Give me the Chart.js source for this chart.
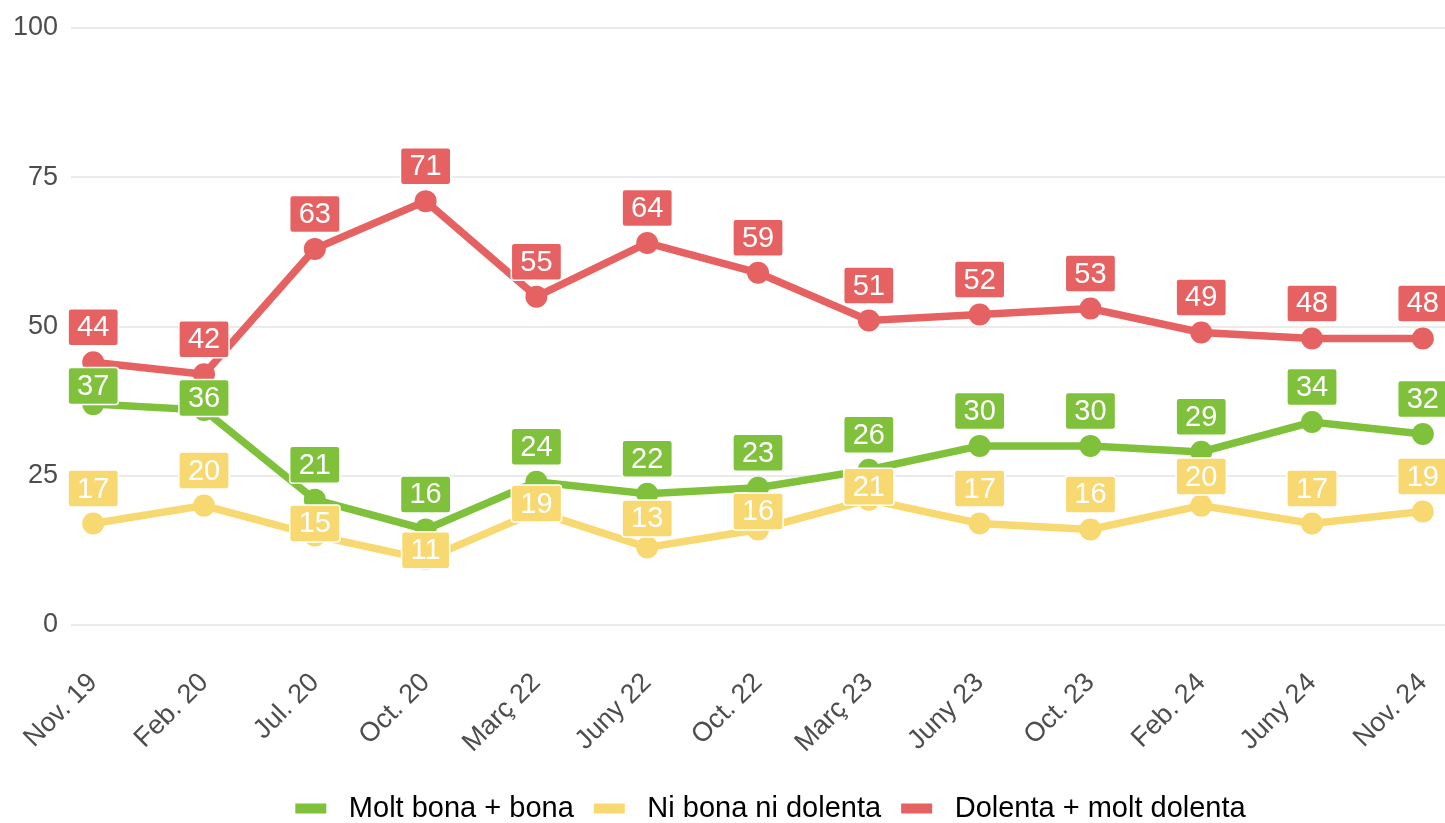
<!DOCTYPE html>
<html>
<head>
<meta charset="utf-8">
<script src="https://cdn.jsdelivr.net/npm/chart.js@4.4.1/dist/chart.umd.min.js"></script>
<style>
  html, body { margin: 0; padding: 0; background: #fff; overflow: hidden; }
  #wrap { width: 1445px; height: 823px; position: relative; }
</style>
</head>
<body>
<div id="wrap"><canvas id="grafic"></canvas></div>
<script>
// Dades de l'enquesta
const categories = ['Nov. 19', 'Feb. 20', 'Jul. 20', 'Oct. 20', 'Març 22', 'Juny 22', 'Oct. 22',
                    'Març 23', 'Juny 23', 'Oct. 23', 'Feb. 24', 'Juny 24', 'Nov. 24'];
const seriesNames = ['Molt bona + bona', 'Ni bona ni dolenta', 'Dolenta + molt dolenta'];
const bona    = [37, 36, 21, 16, 24, 22, 23, 26, 30, 30, 29, 34, 32];
const neutra  = [17, 20, 15, 11, 19, 13, 16, 21, 17, 16, 20, 17, 19];
const dolenta = [44, 42, 63, 71, 55, 64, 59, 51, 52, 53, 49, 48, 48];
const yTicks  = [0, 25, 50, 75, 100];

// Colors i desplaçament vertical de les etiquetes (px respecte el punt)
const colors = ['#7fc13b', '#f8d870', '#e66262'];
const labelShift = [
  [-18, -12, -35, -35, -35, -35, -35, -35, -35, -35, -35, -35, -35],
  [-35, -35, -12, -9, -8, -29, -18, -13, -35, -35, -29, -35, -35],
  [-35, -35, -35, -35, -35, -35, -35, -35, -35, -35, -35, -35, -35]
];

const FONT = "'Liberation Sans', Arial, sans-serif";

function toPoints(arr) {
  return arr.map((v, i) => ({ x: i, y: v }));
}

// Plugin per dibuixar les etiquetes amb caixa
const valueLabels = {
  id: 'valueLabels',
  afterDatasetsDraw(chart) {
    const ctx = chart.ctx;
    ctx.save();
    ctx.font = '29px ' + FONT;
    ctx.textAlign = 'center';
    ctx.textBaseline = 'middle';
    chart.data.datasets.forEach((ds, di) => {
      const meta = chart.getDatasetMeta(di);
      meta.data.forEach((pt, i) => {
        const txt = String(ds.data[i].y);
        const w = ctx.measureText(txt).width + 18;
        const h = 37;
        const cx = pt.x;
        const cy = pt.y + labelShift[di][i];
        ctx.beginPath();
        ctx.roundRect(cx - w / 2, cy - h / 2, w, h, 3);
        ctx.fillStyle = colors[di];
        ctx.fill();
        ctx.lineWidth = 1.5;
        ctx.strokeStyle = '#ffffff';
        ctx.stroke();
        ctx.fillStyle = '#ffffff';
        ctx.fillText(txt, cx, cy + 1);
      });
    });
    ctx.restore();
  }
};

// La llegenda no queda centrada a la pàgina sinó una mica a la dreta
const legendShift = {
  id: 'legendShift',
  afterLayout(chart) {
    chart.legend.left += 48;
    chart.legend.right += 48;
  }
};

const ctx = document.getElementById('grafic').getContext('2d');
const chart = new Chart(ctx, {
  type: 'line',
  data: {
    datasets: [bona, neutra, dolenta].map((serie, i) => ({
      label: seriesNames[i],
      data: toPoints(serie),
      borderColor: colors[i],
      backgroundColor: colors[i],
      borderWidth: 7.5,
      pointRadius: 11,
      pointBorderWidth: 0,
      pointBackgroundColor: colors[i],
      fill: false,
      tension: 0
    }))
  },
  options: {
    responsive: true,
    maintainAspectRatio: false,
    animation: false,
    layout: { autoPadding: false, padding: { top: 28, right: 0, left: 0, bottom: -10 } },
    scales: {
      x: {
        type: 'linear',
        min: -0.2,
        max: 12.2,
        grid: { display: false },
        border: { display: false },
        afterFit: scale => {
          scale.paddingRight = 0;
          scale.paddingLeft = 0;
          scale.height = 149;
        },
        ticks: {
          stepSize: 1,
          includeBounds: false,
          autoSkip: false,
          maxTicksLimit: 30,
          maxRotation: 45,
          minRotation: 45,
          padding: 34,
          color: '#4d4d4d',
          font: { family: FONT, size: 27 },
          callback: v => Number.isInteger(v) ? categories[v] : ''
        }
      },
      y: {
        min: 0,
        max: 100,
        afterBuildTicks: axis => { axis.ticks = yTicks.map(v => ({ value: v })); },
        afterFit: scale => {
          scale.paddingTop = 0;
          scale.paddingBottom = 0;
        },
        grid: { color: '#ebebeb', lineWidth: 2, drawTicks: false },
        border: { display: false },
        ticks: {
          padding: 13,
          color: '#4d4d4d',
          font: { family: FONT, size: 27 }
        }
      }
    },
    plugins: {
      tooltip: { enabled: false },
      legend: {
        position: 'bottom',
        labels: {
          boxWidth: 31,
          boxHeight: 10,
          padding: 20,
          color: '#000000',
          font: { family: FONT, size: 29 },
          generateLabels: c => Chart.defaults.plugins.legend.labels.generateLabels(c)
            .map(item => Object.assign(item, { text: ' ' + item.text, lineWidth: 0 }))
        }
      }
    }
  },
  plugins: [valueLabels, legendShift]
});
</script>
</body>
</html>
